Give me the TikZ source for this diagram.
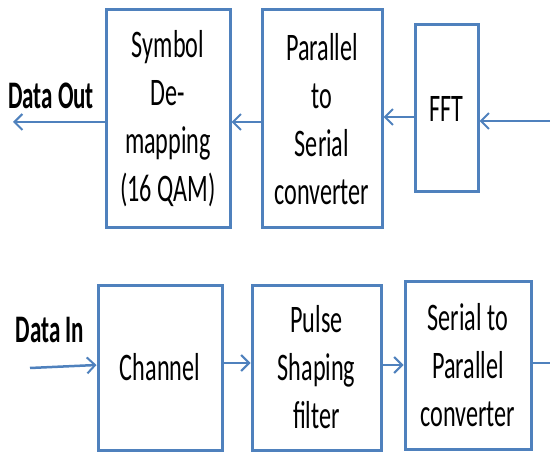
\documentclass[tikz,border=0pt]{standalone}
\usepackage{fontspec}
\setmainfont{Carlito}
\usepackage{graphicx}
\usetikzlibrary{arrows.meta}
\definecolor{boxblue}{HTML}{4F81BD}
\newcommand\sq[1]{\scalebox{0.62}[1]{#1}}
\newcommand\sqb[1]{\scalebox{0.59}[1]{#1}}
\begin{document}
\begin{tikzpicture}[x=1pt,y=-1pt,
  blk/.style={draw=boxblue,line width=3pt,inner sep=0pt,align=center,
    font=\fontsize{39}{48}\selectfont},
  arr/.style={draw=boxblue,line width=2.5pt,-{Straight Barb[length=8pt,width=16pt,line width=2pt]}},
  lab/.style={inner sep=0pt,font=\bfseries\fontsize{39}{44}\selectfont}]
\useasboundingbox (0,0) rectangle (550,452);
% top row
\node[blk,minimum width=124pt,minimum height=218pt] (sym) at (168,119)
  {\sq{Symbol}\\\sq{De-}\\\sq{mapping}\\\sq{(16 QAM)}};
\node[blk,minimum width=120pt,minimum height=218pt] (p2s) at (322,119)
  {\sq{Parallel}\\\sq{to}\\\sq{Serial}\\\sq{converter}};
\node[blk,minimum width=63pt,minimum height=167pt] (fft) at (446.5,108.5)
  {\sq{FFT}};
\coordinate (rin) at (552,121);
\coordinate (dout) at (13,122);
\draw[arr] (rin) -- (fft.east |- rin);
\draw[arr] (fft.west |- 0,117) -- (p2s.east |- 0,117);
\draw[arr] (p2s.west |- 0,122) -- (sym.east |- 0,122);
\draw[arr] (sym.west |- dout) -- (dout);
\node[lab] (dol) at (51,95.5) {\sqb{Data Out}};
% bottom row
\node[blk,minimum width=124pt,minimum height=165pt] (ch) at (160,367.5)
  {\sq{Channel}};
\node[blk,minimum width=129pt,minimum height=165pt] (ps) at (316.5,367.5)
  {\sq{Pulse}\\\sq{Shaping}\\\sq{filter}};
\node[blk,minimum width=126pt,minimum height=168pt] (sp) at (468,365)
  {\sq{Serial to}\\\sq{Parallel}\\\sq{converter}};
\coordinate (din) at (30,368);
\coordinate (rout) at (552,363);
\draw[arr] (din) -- (ch.west |- 0,365);
\draw[arr] (ch.east |- 0,363) -- (ps.west |- 0,363);
\draw[arr] (ps.east |- 0,365) -- (sp.west |- 0,365);
\draw[draw=boxblue,line width=2.5pt] (sp.east |- rout) -- (rout);
\node[lab] (dil) at (50,330) {\sqb{Data In}};
\end{tikzpicture}
\end{document}
